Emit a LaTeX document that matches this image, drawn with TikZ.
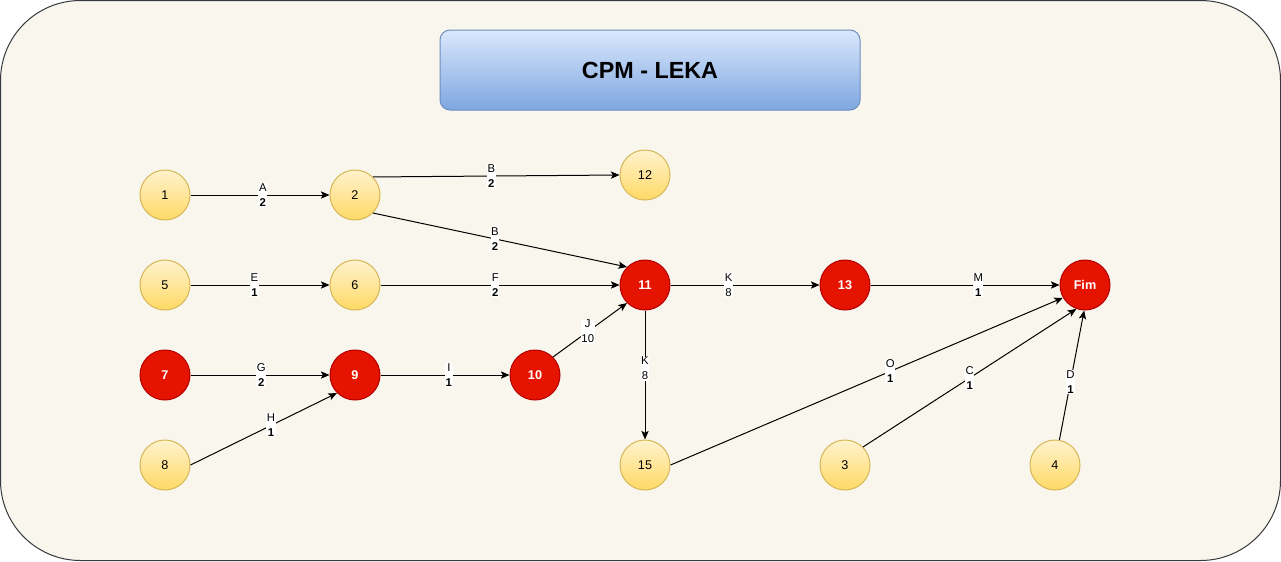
\documentclass[tikz,border=0pt]{standalone}
\usepackage{fontspec}
\setmainfont{Liberation Sans}
\usetikzlibrary{arrows.meta}
\definecolor{papel}{HTML}{F9F7ED}
\definecolor{borda}{HTML}{36393D}
\definecolor{amatopo}{HTML}{FFF2CC}
\definecolor{amabase}{HTML}{FFD966}
\definecolor{amatraco}{HTML}{D6B656}
\definecolor{vermelho}{HTML}{E51400}
\definecolor{vertraco}{HTML}{B20000}
\definecolor{azultopo}{HTML}{DAE8FC}
\definecolor{azulbase}{HTML}{7EA6E0}
\definecolor{azultraco}{HTML}{6C8EBF}
\begin{document}
\begin{tikzpicture}[x=0.75pt,y=-0.75pt,
	evento/.style={circle,draw=amatraco,line width=0.75pt,top color=amatopo,bottom color=amabase,
		minimum size=37.5pt,inner sep=0pt,font=\fontsize{9.5}{10}\selectfont},
	critico/.style={circle,draw=vertraco,line width=0.75pt,fill=vermelho,text=white,
		minimum size=37.5pt,inner sep=0pt,font=\bfseries\fontsize{9.5}{10}\selectfont},
	seta/.style={-{Stealth[length=6.5pt,width=5.5pt,inset=1.5pt]},line width=0.75pt},
	ativ/.style={fill=white,inner sep=0.4pt,align=center,font=\fontsize{8.5}{11.25}\selectfont}]
	\useasboundingbox (0,0) rectangle (1281,561);
	\draw[borda,fill=papel,line width=0.75pt,rounded corners=60pt] (0.5,0.5) rectangle (1280.5,560.5);

	\node[draw=azultraco,line width=0.75pt,top color=azultopo,bottom color=azulbase,rounded corners=7.5pt,
		minimum width=315pt,minimum height=60pt,font=\bfseries\fontsize{17.5}{20}\selectfont] (titulo) at (650,70) {CPM - LEKA};

	% eventos
	\node[evento] (n1) at (165,195) {1};
	\node[evento] (n2) at (355,195) {2};
	\node[evento] (n12) at (645,175) {12};
	\node[evento] (n5) at (165,285) {5};
	\node[evento] (n6) at (355,285) {6};
	\node[critico] (n11) at (645,285) {11};
	\node[critico] (n13) at (845,285) {13};
	\node[critico] (fim) at (1085,285) {Fim};
	\node[critico] (n7) at (165,375) {7};
	\node[critico] (n9) at (355,375) {9};
	\node[critico] (n10) at (535,375) {10};
	\node[evento] (n8) at (165,465) {8};
	\node[evento] (n15) at (645,465) {15};
	\node[evento] (n3) at (845,465) {3};
	\node[evento] (n4) at (1055,465) {4};

	% atividades
	\draw[seta] (n1) -- node[ativ,pos=0.52] {A\\\textbf{2}} (n2);
	\draw[seta] (n2.north east) -- node[ativ,pos=0.48] {B\\\textbf{2}} (n12.west);
	\draw[seta] (n2.south east) -- node[ativ,pos=0.48] {B\\\textbf{2}} (n11.north west);
	\draw[seta] (n5) -- node[ativ,pos=0.46] {E\\\textbf{1}} (n6);
	\draw[seta] (n6) -- node[ativ,pos=0.48] {F\\\textbf{2}} (n11);
	\draw[seta] (n7) -- node[ativ,pos=0.51] {G\\\textbf{2}} (n9);
	\draw[seta] (n8.east) -- node[ativ,pos=0.55] {H\\\textbf{1}} (n9.south west);
	\draw[seta] (n9) -- node[ativ,pos=0.53] {I\\\textbf{1}} (n10);
	\draw[seta] (n10.north east) -- node[ativ,pos=0.47] {J\\10} (n11.south west);
	\draw[seta] (n11) -- node[ativ,pos=0.39] {K\\8} (n13);
	\draw[seta] (n11) -- node[ativ,pos=0.45] {K\\8} (n15);
	\draw[seta] (n13) -- node[ativ,pos=0.57] {M\\\textbf{1}} (fim);
	\draw[seta] (n15.east) -- node[ativ,pos=0.56] {O\\\textbf{1}} (fim.210);
	\draw[seta] (n3.north east) -- node[ativ,pos=0.5] {C\\\textbf{1}} (fim.250);
	\draw[seta] (n4.80) -- node[ativ,pos=0.45] {D\\\textbf{1}} (fim.268);
\end{tikzpicture}
\end{document}
